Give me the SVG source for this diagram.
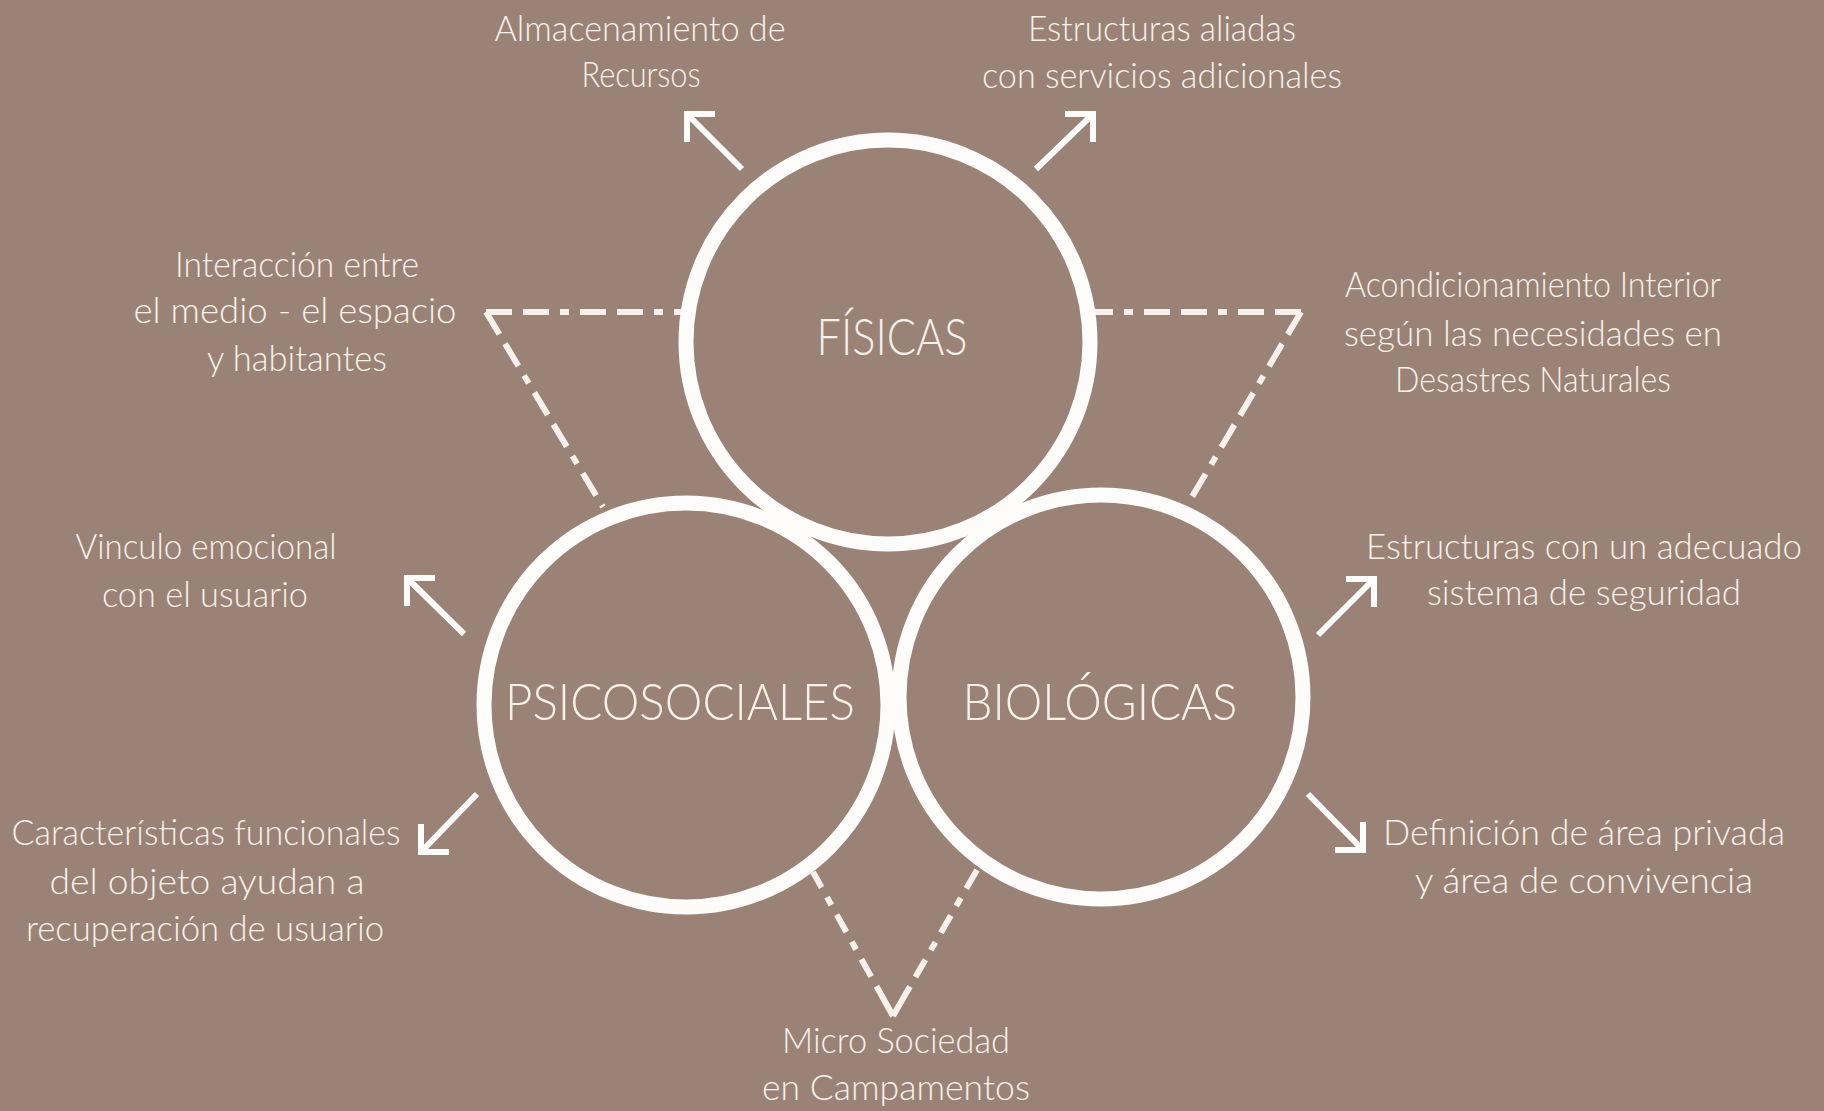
<svg xmlns="http://www.w3.org/2000/svg" width="1824" height="1111" viewBox="0 0 1824 1111">
<defs>
<style>
.bg{fill:#9a8376}
.ring{fill:none;stroke:#fefcfa;stroke-width:15}
.lbl{font-family:Lato,"Open Sans","DejaVu Sans",sans-serif;font-weight:300;fill:#f8f0ea;text-anchor:middle}
.big{font-size:52px}
.sm{font-size:36px}
.arrow{fill:none;stroke:#fefcfa;stroke-width:6;stroke-linecap:butt;stroke-linejoin:miter}
.dash{fill:none;stroke:#f8f0ea;stroke-width:6;stroke-dasharray:26 11 26 11 9 11}
.vdash{fill:none;stroke:#f8f0ea;stroke-width:6;stroke-dasharray:34 11 20 11 9 11 20 11 9 11}
</style>
</defs>
<rect class="bg" x="0" y="0" width="1824" height="1111"/>

<g id="connectors">
  <!-- top inverted triangle dashed lines -->
  <path class="dash" d="M486,312 H682"/>
  <path class="dash" d="M486,312 L603,507"/>
  <path class="dash" d="M1301,312 H1094"/>
  <path class="dash" d="M1301,312 L1189,502"/>
  <!-- bottom V -->
  <path class="vdash" d="M893,1016 L813,872"/>
  <path class="vdash" d="M893,1016 L977,870"/>
  <!-- arrows -->
  <path class="arrow" d="M715,114 H687 V142 M687,114 L742,169"/>
  <path class="arrow" d="M1065,114 H1093 V142 M1093,114 L1036,169"/>
  <path class="arrow" d="M435,578 H407 V606 M407,578 L464,634"/>
  <path class="arrow" d="M449,852 H421 V824 M421,852 L477,794"/>
  <path class="arrow" d="M1346,579 H1374 V607 M1374,579 L1318,635"/>
  <path class="arrow" d="M1335,850 H1363 V822 M1363,850 L1308,794"/>
</g>

<g id="node-fisicas">
  <circle class="ring" cx="888" cy="342" r="202"/>
  <text class="lbl big" x="892" y="355" textLength="151" lengthAdjust="spacingAndGlyphs">FÍSICAS</text>
</g>
<g id="node-psicosociales">
  <circle class="ring" cx="686" cy="705" r="202"/>
  <text class="lbl big" x="680" y="720" textLength="350" lengthAdjust="spacingAndGlyphs">PSICOSOCIALES</text>
</g>
<g id="node-biologicas">
  <circle class="ring" cx="1101" cy="697" r="202"/>
  <text class="lbl big" x="1100" y="720" textLength="275" lengthAdjust="spacingAndGlyphs">BIOLÓGICAS</text>
</g>

<g id="note-almacenamiento">
  <text class="lbl sm" x="640" y="41" textLength="291" lengthAdjust="spacingAndGlyphs">Almacenamiento de</text>
  <text class="lbl sm" x="641" y="87" textLength="119" lengthAdjust="spacingAndGlyphs">Recursos</text>
</g>
<g id="note-estructuras-aliadas">
  <text class="lbl sm" x="1162" y="41" textLength="268" lengthAdjust="spacingAndGlyphs">Estructuras aliadas</text>
  <text class="lbl sm" x="1162" y="88" textLength="360" lengthAdjust="spacingAndGlyphs">con servicios adicionales</text>
</g>
<g id="note-interaccion">
  <text class="lbl sm" x="297" y="277" textLength="244" lengthAdjust="spacingAndGlyphs">Interacción entre</text>
  <text class="lbl sm" x="295" y="323" textLength="323" lengthAdjust="spacingAndGlyphs">el medio - el espacio</text>
  <text class="lbl sm" x="297" y="371" textLength="180" lengthAdjust="spacingAndGlyphs">y habitantes</text>
</g>
<g id="note-acondicionamiento">
  <text class="lbl sm" x="1533" y="297" textLength="376" lengthAdjust="spacingAndGlyphs">Acondicionamiento Interior</text>
  <text class="lbl sm" x="1533" y="346" textLength="378" lengthAdjust="spacingAndGlyphs">según las necesidades en</text>
  <text class="lbl sm" x="1533" y="392" textLength="276" lengthAdjust="spacingAndGlyphs">Desastres Naturales</text>
</g>
<g id="note-vinculo">
  <text class="lbl sm" x="206" y="559" textLength="261" lengthAdjust="spacingAndGlyphs">Vinculo emocional</text>
  <text class="lbl sm" x="205" y="607" textLength="206" lengthAdjust="spacingAndGlyphs">con el usuario</text>
</g>
<g id="note-caracteristicas">
  <text class="lbl sm" x="206" y="845" textLength="389" lengthAdjust="spacingAndGlyphs">Características funcionales</text>
  <text class="lbl sm" x="207" y="894" textLength="315" lengthAdjust="spacingAndGlyphs">del objeto ayudan a</text>
  <text class="lbl sm" x="205" y="941" textLength="358" lengthAdjust="spacingAndGlyphs">recuperación de usuario</text>
</g>
<g id="note-estructuras-seguridad">
  <text class="lbl sm" x="1584" y="559" textLength="436" lengthAdjust="spacingAndGlyphs">Estructuras con un adecuado</text>
  <text class="lbl sm" x="1584" y="605" textLength="314" lengthAdjust="spacingAndGlyphs">sistema de seguridad</text>
</g>
<g id="note-definicion">
  <text class="lbl sm" x="1584" y="845" textLength="402" lengthAdjust="spacingAndGlyphs">Definición de área privada</text>
  <text class="lbl sm" x="1584" y="893" textLength="338" lengthAdjust="spacingAndGlyphs">y área de convivencia</text>
</g>
<g id="note-micro">
  <text class="lbl sm" x="896" y="1053" textLength="228" lengthAdjust="spacingAndGlyphs">Micro Sociedad</text>
  <text class="lbl sm" x="896" y="1100" textLength="268" lengthAdjust="spacingAndGlyphs">en Campamentos</text>
</g>
</svg>
